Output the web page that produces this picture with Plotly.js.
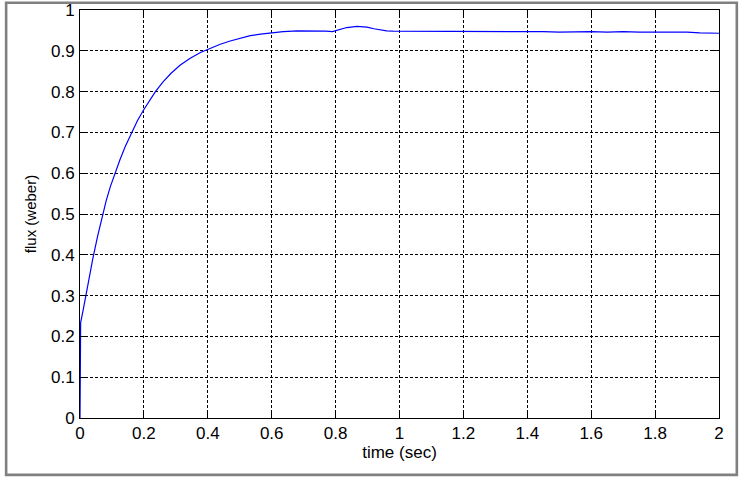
<!DOCTYPE html>
<html>
<head>
<meta charset="utf-8">
<script src="https://cdn.plot.ly/plotly-3.0.1.min.js"></script>
<style>
  html, body { margin: 0; padding: 0; background: #fff; }
  #plot { width: 742px; height: 479px; }
</style>
</head>
<body>
<div id="plot"></div>
<script>
// flux response
const time = [0, 0.0005, 0.002, 0.01, 0.017, 0.0275, 0.04, 0.055, 0.069, 0.082, 0.095,
  0.111, 0.125, 0.142, 0.161, 0.18, 0.2, 0.215, 0.236, 0.26, 0.285, 0.314, 0.345,
  0.377, 0.41, 0.439, 0.47, 0.5, 0.533, 0.565, 0.595, 0.636, 0.68, 0.73, 0.77,
  0.79, 0.81, 0.835, 0.867, 0.898, 0.92, 0.939, 0.96, 0.98, 1.064, 1.1, 1.15, 1.2, 1.25,
  1.3, 1.35, 1.4, 1.45, 1.5, 1.55, 1.6, 1.65, 1.7, 1.75, 1.8, 1.85, 1.9, 1.94, 2.0];
const flux = [0, 0.2, 0.234, 0.265, 0.295, 0.34, 0.39, 0.445, 0.493, 0.533, 0.567,
  0.604, 0.633, 0.666, 0.699, 0.729, 0.756, 0.775, 0.8, 0.824, 0.845, 0.865, 0.882,
  0.896, 0.907, 0.916, 0.924, 0.931, 0.937, 0.941, 0.944, 0.947, 0.949, 0.949, 0.948,
  0.947, 0.951, 0.957, 0.96, 0.958, 0.954, 0.951, 0.949, 0.948, 0.948, 0.948, 0.947, 0.948, 0.947,
  0.948, 0.947, 0.947, 0.947, 0.946, 0.947, 0.947, 0.946, 0.947, 0.946, 0.946, 0.946,
  0.946, 0.944, 0.943];

const trace = {
  x: time,
  y: flux,
  type: 'scatter',
  mode: 'lines',
  line: { color: '#0000ff', width: 1.2 },
  hoverinfo: 'skip'
};

const axisStyle = {
  showline: true,
  linecolor: '#000',
  linewidth: 1,
  mirror: 'ticks',
  ticks: 'inside',
  ticklen: 6,
  tickcolor: '#000',
  showgrid: true,
  gridcolor: '#000',
  gridwidth: 1,
  griddash: '3px,2px',
  zeroline: false,
  tickfont: { family: 'Liberation Sans, Arial, sans-serif', size: 17, color: '#000' }
};

const layout = {
  width: 742,
  height: 479,
  margin: { l: 79.5, r: 22.7, t: 10, b: 61 },
  paper_bgcolor: '#fff',
  plot_bgcolor: '#fff',
  showlegend: false,
  xaxis: Object.assign({}, axisStyle, {
    range: [0, 2],
    dtick: 0.2,
    tick0: 0,
    title: { text: 'time (sec)', standoff: 1,
      font: { family: 'Liberation Sans, Arial, sans-serif', size: 17, color: '#000' } }
  }),
  yaxis: Object.assign({}, axisStyle, {
    range: [0, 1],
    dtick: 0.1,
    tick0: 0,
    ticklabelstandoff: 1,
    title: { text: 'flux (weber)', standoff: 10,
      font: { family: 'Liberation Sans, Arial, sans-serif', size: 15, color: '#000' } }
  }),
  shapes: [{
    type: 'rect', xref: 'paper', yref: 'paper',
    x0: -0.1156, x1: 1.0279, y0: -0.1395, y1: 1.0176,
    line: { color: '#808080', width: 2.6 },
    fillcolor: 'rgba(0,0,0,0)', layer: 'below'
  }]
};

Plotly.newPlot('plot', [trace], layout, { staticPlot: true, displayModeBar: false });
</script>
</body>
</html>
